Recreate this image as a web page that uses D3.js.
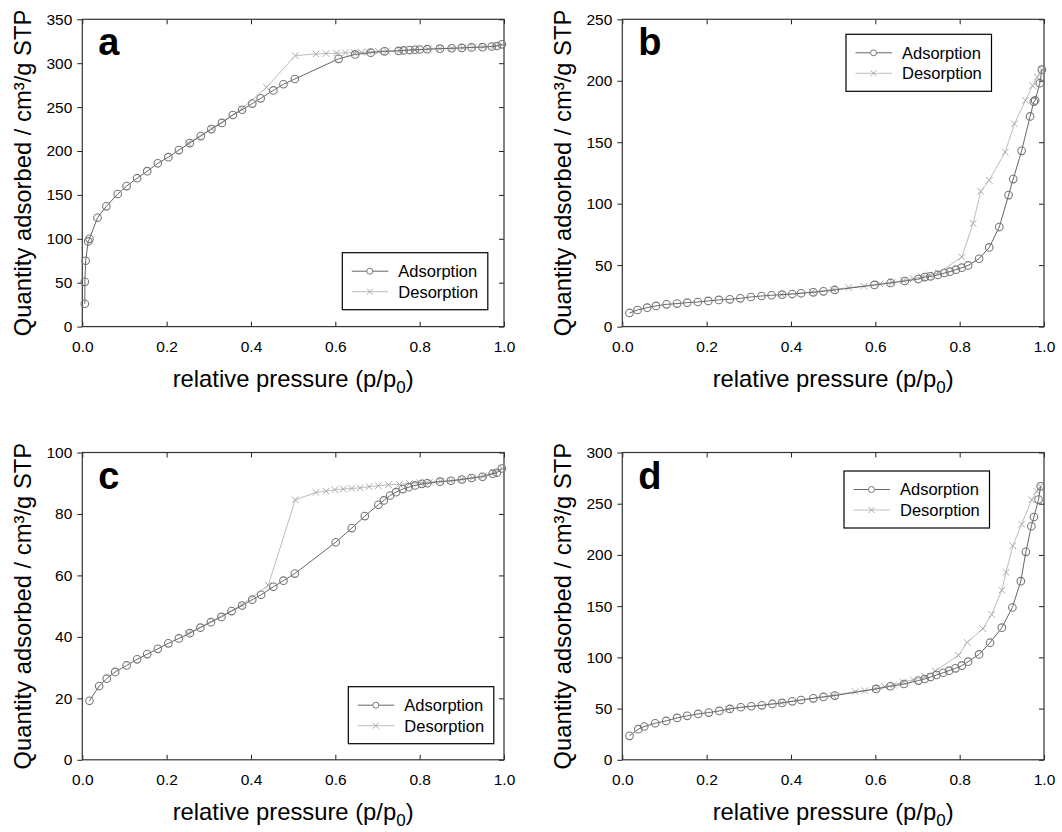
<!DOCTYPE html>
<html>
<head>
<meta charset="utf-8">
<script src="https://cdn.jsdelivr.net/npm/d3@7"></script>
<style>
  body { margin: 0; background: #fff; }
  svg text { font-family: "Liberation Sans", Arial, sans-serif; }
</style>
</head>
<body>
<div id="chart"></div>
<script>
// ---------------- data (relative pressure, quantity adsorbed) ----------------
const adsA = [[0.006,26],[0.006,51],[0.008,75],[0.014,97],[0.017,100],[0.036,124],[0.057,137],[0.084,151],
  [0.105,160],[0.13,169],[0.154,177],[0.179,186],[0.204,193],[0.229,201],[0.255,209],[0.281,217],[0.306,225],
  [0.331,232],[0.357,241],[0.379,247],[0.403,254],[0.423,260],[0.453,269],[0.477,276],[0.504,282],[0.608,305],
  [0.647,310],[0.684,312],[0.717,313.5],[0.75,314],[0.762,314.5],[0.776,315],[0.789,315.3],[0.8,315.6],
  [0.818,316],[0.848,316.6],[0.876,317],[0.9,317.4],[0.923,318],[0.949,318.3],[0.971,319],[0.983,319.6],[0.995,321.5]]
const desA = [[0.995,321],[0.975,319.5],[0.951,318.5],[0.927,318],[0.903,317.5],[0.876,317],[0.848,316.5],
  [0.82,316],[0.789,315.3],[0.753,314.5],[0.722,314],[0.702,313.5],[0.678,313],[0.662,312.5],[0.645,312],
  [0.624,311.8],[0.603,311.5],[0.578,311],[0.554,310.5],[0.505,308.6],[0.437,272.5],[0.378,248],[0.307,225.6],[0.251,209]]

const adsB = [[0.017,11.1],[0.036,13.5],[0.059,15.4],[0.08,16.8],[0.105,18.1],[0.13,18.7],[0.154,19.5],
  [0.179,20],[0.204,20.9],[0.229,21.7],[0.255,22.2],[0.28,23],[0.305,24.1],[0.33,24.9],[0.354,25.5],[0.379,26],
  [0.403,26.5],[0.424,27.1],[0.453,27.9],[0.477,28.7],[0.504,29.8],[0.598,33.9],[0.636,35.5],[0.67,37.1],
  [0.702,38.7],[0.717,40.3],[0.731,40.9],[0.748,42],[0.764,43.6],[0.777,44.7],[0.791,46.3],[0.805,47.9],
  [0.82,49.8],[0.846,55.2],[0.87,64.4],[0.894,81],[0.916,107],[0.927,120],[0.947,143],[0.967,171],[0.976,183],
  [0.979,184],[0.99,198],[0.995,209]]
const desB = [[0.995,209],[0.984,203],[0.973,196],[0.956,184],[0.93,165],[0.908,142],[0.87,119],[0.85,110],
  [0.832,84],[0.805,56.6],[0.749,43.6],[0.729,42],[0.71,40.5],[0.69,39],[0.667,37.5],[0.64,36],[0.611,34.7],
  [0.573,32.8],[0.537,31.7],[0.5,30.2],[0.45,28.2],[0.378,26]]

const adsC = [[0.017,19.2],[0.04,24],[0.058,26.4],[0.078,28.6],[0.105,30.7],[0.13,32.7],[0.154,34.4],
  [0.179,36.1],[0.204,37.9],[0.229,39.5],[0.255,41.2],[0.28,43],[0.305,44.8],[0.33,46.5],[0.354,48.4],
  [0.379,50.2],[0.403,52.1],[0.424,53.7],[0.453,56.3],[0.477,58.3],[0.504,60.6],[0.601,70.8],[0.639,75.4],
  [0.67,79.3],[0.702,83],[0.715,84.4],[0.73,86],[0.744,87.1],[0.76,88.1],[0.774,88.7],[0.789,89.3],
  [0.805,89.8],[0.818,90],[0.848,90.5],[0.874,90.8],[0.9,91.2],[0.923,91.7],[0.949,92.1],[0.973,93.1],
  [0.983,93.4],[0.995,94.8]]
const desC = [[0.995,94.8],[0.976,93.5],[0.951,92.4],[0.926,91.8],[0.9,91.3],[0.874,90.8],[0.85,90.6],
  [0.824,90.4],[0.8,90.2],[0.776,89.9],[0.752,89.6],[0.726,89.5],[0.702,89.2],[0.68,88.9],[0.659,88.5],
  [0.639,88.3],[0.619,88.1],[0.599,87.9],[0.578,87.4],[0.554,87],[0.505,84.6],[0.441,56.8],[0.378,50.4],[0.251,41.1]]

const adsD = [[0.017,23.4],[0.038,29.9],[0.052,32.5],[0.078,35.7],[0.104,38],[0.13,40.9],[0.154,42.9],
  [0.18,44.8],[0.205,46.1],[0.23,47.7],[0.255,49.7],[0.281,51.3],[0.306,52.3],[0.331,53.2],[0.356,54.5],
  [0.379,55.5],[0.403,57.1],[0.424,58.4],[0.453,60],[0.477,61.4],[0.504,62.7],[0.602,69.2],[0.636,71.8],
  [0.668,74],[0.702,77.3],[0.717,78.9],[0.731,80.8],[0.745,82.8],[0.761,85],[0.775,87],[0.79,89.3],
  [0.805,91.9],[0.82,95.8],[0.846,102.9],[0.872,114.3],[0.9,129],[0.925,148.7],[0.945,174.4],[0.957,203],
  [0.97,228],[0.976,237],[0.987,254],[0.992,267]]
const desD = [[0.992,267],[0.983,262],[0.971,254],[0.947,230],[0.926,209],[0.91,183],[0.9,165.6],
  [0.876,141.9],[0.855,128],[0.818,114.6],[0.797,102],[0.742,86.7],[0.718,81.2],[0.69,78],[0.666,76],
  [0.643,73],[0.622,71.5],[0.6,69.5],[0.575,67.5],[0.552,66.6],[0.5,63],[0.378,55.5],[0.251,49.5]]

const xTicks = [0, 0.2, 0.4, 0.6, 0.8, 1.0]
const yMaxes = [350, 250, 100, 300]
const yTicks = [
  [0, 50, 100, 150, 200, 250, 300, 350],
  [0, 50, 100, 150, 200, 250],
  [0, 20, 40, 60, 80, 100],
  [0, 50, 100, 150, 200, 250, 300]
]
const letters = ["a", "b", "c", "d"]
const seriesNames = ["Adsorption", "Desorption"]
const adsAll = [adsA, adsB, adsC, adsD]
const desAll = [desA, desB, desC, desD]

// ---------------- layout ----------------
const W = 1062, H = 832
const pw = 421.7, ph = 307.3
const origins = [[82.3, 19.3], [622.3, 19.3], [82.3, 452.5], [622.3, 452.5]]
// legend box top-left, relative to plot area
const legendPos = [[260, 233.4], [223.7, 15], [266, 234.2], [221.7, 18.5]]

const adsStroke = "#666", adsMark = "#777"
const desStroke = "#bdbdbd", desMark = "#aaa"

const svg = d3.select("#chart").append("svg")
  .attr("width", W).attr("height", H)

function cross(g, x, y, s, color) {
  g.append("path")
    .attr("d", `M${x - s},${y - s}L${x + s},${y + s}M${x - s},${y + s}L${x + s},${y - s}`)
    .attr("stroke", color).attr("stroke-width", 1).attr("fill", "none")
}

for (let p = 0; p < 4; p++) {
  const [ox, oy] = origins[p]
  const g = svg.append("g").attr("transform", `translate(${ox},${oy})`)

  const x = d3.scaleLinear().domain([0, 1]).range([0, pw])
  const y = d3.scaleLinear().domain([0, yMaxes[p]]).range([ph, 0])

  // axes
  g.append("g").attr("transform", `translate(0,${ph})`)
    .call(d3.axisBottom(x).tickValues(xTicks).tickFormat(d3.format(".1f")).tickSizeInner(-5).tickSizeOuter(0).tickPadding(14))
  g.append("g")
    .call(d3.axisLeft(y).tickValues(yTicks[p]).tickFormat(d3.format("d")).tickSizeInner(5).tickSizeOuter(0).tickPadding(5))
  g.append("g")
    .call(d3.axisTop(x).tickValues(xTicks).tickFormat("").tickSizeInner(-5).tickSizeOuter(0))
  g.append("g").attr("transform", `translate(${pw},0)`)
    .call(d3.axisRight(y).tickValues(yTicks[p]).tickFormat("").tickSizeInner(-5).tickSizeOuter(0))

  g.selectAll(".domain").remove()
  g.selectAll(".tick line").attr("stroke", "#222")
  g.selectAll(".tick text").attr("font-size", "15.5px").attr("fill", "#000")
    .attr("font-family", "'Liberation Sans', Arial, sans-serif")

  g.append("rect").attr("width", pw).attr("height", ph)
    .attr("fill", "none").attr("stroke", "#333").attr("stroke-width", 1.2)

  // curves
  const line = d3.line().x(d => x(d[0])).y(d => y(d[1]))

  g.append("path").datum(desAll[p]).attr("d", line)
    .attr("fill", "none").attr("stroke", desStroke).attr("stroke-width", 1)
  desAll[p].forEach(d => cross(g, x(d[0]), y(d[1]), 3.3, desMark))

  g.append("path").datum(adsAll[p]).attr("d", line)
    .attr("fill", "none").attr("stroke", adsStroke).attr("stroke-width", 1)
  g.selectAll("circle.ads").data(adsAll[p]).enter().append("circle")
    .attr("class", "ads")
    .attr("cx", d => x(d[0])).attr("cy", d => y(d[1])).attr("r", 3.8)
    .attr("fill", "none").attr("stroke", adsMark).attr("stroke-width", 1.1)

  // panel letter
  g.append("text").attr("x", 16).attr("y", 36)
    .attr("font-size", "38px").attr("font-weight", "bold").text(letters[p])

  // axis titles
  g.append("text")
    .attr("transform", `translate(-60,${ph / 2}) rotate(-90)`)
    .attr("text-anchor", "middle").attr("dy", "0.35em")
    .attr("font-size", "23.8px").text("Quantity adsorbed / cm³/g STP")

  const xt = g.append("text").attr("x", pw / 2).attr("y", ph + 60)
    .attr("text-anchor", "middle").attr("font-size", "23.8px")
  xt.append("tspan").text("relative pressure (p/p")
  xt.append("tspan").attr("font-size", "17px").attr("dy", 6).text("0")
  xt.append("tspan").attr("dy", -6).text(")")

  // legend
  const [lx, ly] = legendPos[p]
  const lg = g.append("g").attr("transform", `translate(${lx},${ly})`)
  lg.append("rect").attr("width", 145.5).attr("height", 57)
    .attr("fill", "#fff").attr("stroke", "#000").attr("stroke-width", 1.2)
  seriesNames.forEach((name, i) => {
    const yy = 18.5 + i * 20.5
    lg.append("line").attr("x1", 9.5).attr("x2", 46).attr("y1", yy).attr("y2", yy)
      .attr("stroke", i === 0 ? adsStroke : desStroke)
    if (i === 0) {
      lg.append("circle").attr("cx", 27.5).attr("cy", yy).attr("r", 3)
        .attr("fill", "#fff").attr("stroke", adsMark)
    } else {
      cross(lg, 27.5, yy, 3, desMark)
    }
    lg.append("text").attr("x", 56).attr("y", yy).attr("dy", "0.36em")
      .attr("font-size", "16.5px").text(name)
  })
}
</script>
</body>
</html>
